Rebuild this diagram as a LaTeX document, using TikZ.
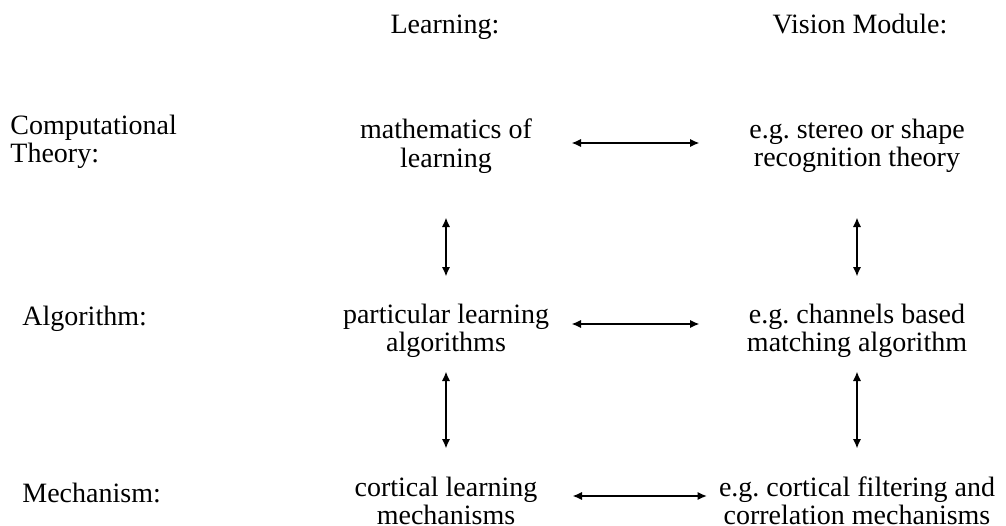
\documentclass[tikz,border=0pt]{standalone}
\usepackage{fontspec}
\setmainfont{Liberation Serif}
\usetikzlibrary{arrows.meta}
\frenchspacing
\begin{document}
\begin{tikzpicture}[x=0.5pt,y=-0.5pt,font=\fontsize{14}{14.25}\selectfont,
		>={Latex[length=4.8pt,width=4.2pt]},
		arr/.style={<->,line width=1pt},
		cell/.style={align=center,inner sep=0pt,minimum width=115pt,minimum height=35pt}]
	\useasboundingbox (0,0) rectangle (1006,525);
	\node[anchor=base] (hl) at (445,33) {Learning:};
	\node[anchor=base] (hv) at (860,33) {Vision Module:};
	\node[anchor=west,align=left,inner sep=0pt] (rt) at (10,142) {Computational\\Theory:};
	\node[anchor=west,inner sep=0pt] (ra) at (22,319) {Algorithm:};
	\node[anchor=west,inner sep=0pt] (rm) at (22,493) {Mechanism:};
	\node[cell] (ml) at (446,146) {mathematics of\\learning};
	\node[cell] (mv) at (857,146) {e.g. stereo or shape\\recognition theory};
	\node[cell] (pl) at (446,331) {particular learning\\algorithms};
	\node[cell] (pv) at (857,331) {e.g. channels based\\matching algorithm};
	\node[cell] (cl) at (446,501) {cortical learning\\mechanisms};
	\node[cell] (cv) at (857,501) {e.g. cortical filtering and\\correlation mechanisms};
	\draw[arr,shorten <=5pt,shorten >=21pt] (ml.east|-0,143) -- (mv.west|-0,143);
	\draw[arr,shorten <=5pt,shorten >=21pt] (pl.east|-0,324) -- (pv.west|-0,324);
	\draw[arr,shorten <=5.5pt,shorten >=5.75pt] (cl.east|-0,496) -- (cv.west|-0,496);
	\draw[arr,shorten <=18pt,shorten >=9.5pt] (ml) -- (pl);
	\draw[arr,shorten <=18pt,shorten >=9.5pt] (mv) -- (pv);
	\draw[arr,shorten <=2.5pt,shorten >=8.5pt] (pl) -- (cl);
	\draw[arr,shorten <=2.5pt,shorten >=8.5pt] (pv) -- (cv);
\end{tikzpicture}
\end{document}
